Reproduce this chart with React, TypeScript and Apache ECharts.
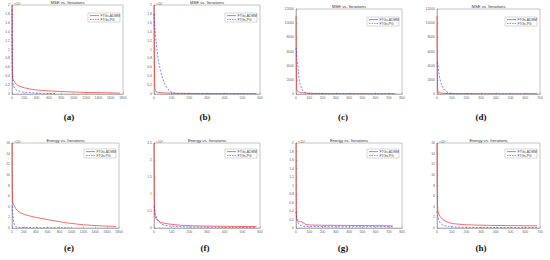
import React, { useEffect, useRef } from "react";
import * as echarts from "echarts";

const seriesNames = ["FTGs-ADMM", "FTGs-PG"];
const titles = ["MSE vs. Iterations", "Energy vs. Iterations"];
const panelLabels = ["(a)", "(b)", "(c)", "(d)", "(e)", "(f)", "(g)", "(h)"];
const exponents = ["×10⁴", "×10⁴", "", "", "×10⁶", "×10⁸", "×10⁸", "×10⁶"];
const xMaxes = [1800, 600, 800, 700, 1800, 600, 800, 700];
const xSteps = [200, 100, 100, 100, 200, 100, 100, 100];
const yMaxes = [2, 2, 12000, 12000, 16, 2.5, 2, 16];
const ySteps = [0.2, 0.2, 2000, 2000, 2, 0.5, 0.2, 2];

// (a)
const aRedX = [0, 2, 5, 10, 20, 40, 70, 100, 150, 200, 300, 400, 600, 800, 1000, 1200, 1400, 1600, 1750];
const aRedY = [2.0, 1.2, 0.6, 0.38, 0.32, 0.27, 0.22, 0.19, 0.16, 0.14, 0.11, 0.09, 0.07, 0.055, 0.045, 0.035, 0.03, 0.025, 0.02];
const aBlueX = [0, 2, 5, 10, 20, 40, 70, 100, 150, 200, 300, 400, 500, 600, 700];
const aBlueY = [1.9, 1.0, 0.5, 0.3, 0.2, 0.13, 0.09, 0.07, 0.05, 0.04, 0.03, 0.02, 0.015, 0.01, 0.008];
// (b)
const bRedX = [0, 1, 2, 3, 5, 8, 12, 20, 40, 80, 150, 300, 450, 580];
const bRedY = [2.0, 1.4, 0.8, 0.4, 0.15, 0.08, 0.05, 0.04, 0.03, 0.02, 0.015, 0.01, 0.008, 0.006];
const bBlueX = [0, 5, 10, 17, 25, 35, 45, 55, 65, 80, 95, 110, 130, 200, 580];
const bBlueY = [1.8, 1.5, 1.25, 1.0, 0.75, 0.55, 0.4, 0.28, 0.19, 0.1, 0.05, 0.025, 0.01, 0.004, 0.002];
// (c)
const cRedX = [0, 1, 2, 4, 6, 10, 20, 40, 80, 150, 300, 500, 750];
const cRedY = [11000, 8000, 4000, 1500, 700, 400, 300, 200, 120, 80, 50, 40, 30];
const cBlueX = [0, 3, 6, 10, 15, 20, 25, 30, 40, 50, 60, 80, 100, 150, 300, 500, 750];
const cBlueY = [6500, 6000, 5200, 4500, 3800, 2800, 2000, 1500, 900, 500, 300, 120, 60, 30, 20, 15, 10];
// (d)
const dRedX = [0, 1, 2, 4, 6, 10, 20, 40, 80, 150, 300, 500, 680];
const dRedY = [11000, 7000, 3000, 1000, 400, 200, 150, 100, 70, 50, 30, 25, 20];
const dBlueX = [0, 3, 6, 10, 15, 20, 30, 40, 50, 60, 80, 100, 130, 200, 400, 680];
const dBlueY = [4500, 4300, 4000, 3400, 2700, 2100, 1400, 900, 600, 380, 150, 60, 25, 10, 5, 5];
// (e)
const eRedX = [0, 2, 5, 10, 20, 40, 60, 100, 150, 250, 400, 640, 900, 1200, 1500, 1750];
const eRedY = [16, 11, 7, 5, 4.5, 4.1, 3.7, 3.2, 2.8, 2.4, 2.0, 1.5, 1.0, 0.6, 0.4, 0.3];
const eBlueX = [0, 5, 10, 20, 30, 50, 80, 120, 200, 400, 700, 1000];
const eBlueY = [4.2, 3.5, 2.8, 1.8, 1.0, 0.4, 0.2, 0.12, 0.08, 0.05, 0.03, 0.02];
// (f)
const fRedX = [0, 1, 2, 4, 7, 10, 20, 40, 80, 150, 250, 400, 580];
const fRedY = [2.5, 1.5, 0.8, 0.45, 0.33, 0.29, 0.22, 0.16, 0.12, 0.08, 0.06, 0.05, 0.04];
const fBlueX = [0, 3, 6, 10, 15, 25, 40, 60, 100, 200, 400, 580];
const fBlueY = [0.65, 0.55, 0.45, 0.37, 0.3, 0.2, 0.12, 0.08, 0.05, 0.03, 0.02, 0.015];
// (g)
const gRedX = [0, 1, 2, 4, 8, 15, 25, 35, 45, 55, 70, 90, 120, 200, 400, 600, 730];
const gRedY = [2.0, 1.0, 0.4, 0.2, 0.17, 0.16, 0.155, 0.15, 0.14, 0.12, 0.09, 0.075, 0.07, 0.065, 0.06, 0.055, 0.05];
const gBlueX = [0, 3, 6, 10, 15, 20, 30, 45, 60, 100, 200, 400, 600, 730];
const gBlueY = [0.38, 0.3, 0.24, 0.18, 0.13, 0.1, 0.07, 0.05, 0.04, 0.035, 0.03, 0.03, 0.03, 0.03];
// (h)
const hRedX = [0, 1, 2, 4, 7, 10, 20, 35, 50, 80, 115, 200, 350, 500, 680];
const hRedY = [16, 10, 6, 3.8, 3.1, 2.8, 2.2, 1.7, 1.4, 1.0, 0.8, 0.6, 0.5, 0.45, 0.4];
const hBlueX = [0, 3, 6, 10, 20, 35, 50, 80, 120, 200, 400, 680];
const hBlueY = [3.2, 2.6, 2.1, 1.6, 1.0, 0.6, 0.45, 0.3, 0.2, 0.12, 0.08, 0.06];

const redSets = [[aRedX, aRedY], [bRedX, bRedY], [cRedX, cRedY], [dRedX, dRedY], [eRedX, eRedY], [fRedX, fRedY], [gRedX, gRedY], [hRedX, hRedY]];
const blueSets = [[aBlueX, aBlueY], [bBlueX, bBlueY], [cBlueX, cBlueY], [dBlueX, dBlueY], [eBlueX, eBlueY], [fBlueX, fBlueY], [gBlueX, gBlueY], [hBlueX, hBlueY]];

// layout: [left, top, width, height]
const layout = [
  [12, 5, 111, 89],
  [154, 5, 106, 89],
  [296, 9, 106, 85],
  [437, 9, 103, 85],
  [12, 143, 107, 85],
  [154, 143, 106, 85],
  [296, 143, 106, 85],
  [437, 143, 103, 85],
];
const labelPos = [
  [69, 117], [205, 117], [343, 117], [481, 117],
  [69, 248], [205, 248], [343, 248], [481, 248],
];

const zip = (xs: number[], ys: number[]) => xs.map((x, i) => [x, ys[i]]);
const RED = "#ff2a2a";
const BLUE = "#2a3aff";

export default function App() {
  const ref = useRef<HTMLDivElement>(null);
  useEffect(() => {
    document.body.style.margin = "0";
    const chart = echarts.init(ref.current!, undefined, { renderer: "svg" });
    const axisColor = "#666";
    const grids: any[] = [];
    const xAxes: any[] = [];
    const yAxes: any[] = [];
    const series: any[] = [];
    const graphics: any[] = [];
    layout.forEach(([l, t, w, h], i) => {
      grids.push({ left: l, top: t, width: w, height: h, show: true, borderColor: "#888", borderWidth: 0.5, backgroundColor: "#fff" });
      const common = {
        gridIndex: i,
        min: 0,
        splitLine: { show: false },
        axisLine: { show: true, lineStyle: { color: "#888", width: 0.5 } },
        axisTick: { show: true, inside: true, length: 1.5, lineStyle: { color: "#888", width: 0.5 } },
        axisLabel: { fontSize: 3.4, color: axisColor, margin: 2, fontFamily: "Liberation Sans", formatter: (v: number) => String(v) },
      };
      xAxes.push({ ...common, type: "value", max: xMaxes[i], interval: xSteps[i] });
      yAxes.push({ ...common, type: "value", max: yMaxes[i], interval: ySteps[i] });
      series.push({
        name: seriesNames[0], type: "line", xAxisIndex: i, yAxisIndex: i, symbol: "none",
        data: zip(redSets[i][0], redSets[i][1]),
        lineStyle: { color: RED, width: 0.7 }, itemStyle: { color: RED },
      });
      series.push({
        name: seriesNames[1], type: "line", xAxisIndex: i, yAxisIndex: i, symbol: "none",
        data: zip(blueSets[i][0], blueSets[i][1]),
        lineStyle: { color: BLUE, width: 0.6, type: [2, 1.5] }, itemStyle: { color: BLUE },
      });
      // legend box (drawn manually)
      const lw = 32, lh = 9;
      const lx = l + w - lw - 3;
      const ly = t + (i < 4 ? 8 : 6);
      graphics.push({
        type: "group",
        children: [
          { type: "rect", shape: { x: lx, y: ly, width: lw, height: lh }, style: { fill: "#fff", stroke: "#999", lineWidth: 0.4 } },
          { type: "line", shape: { x1: lx + 2, y1: ly + 2.6, x2: lx + 11, y2: ly + 2.6 }, style: { stroke: RED, lineWidth: 0.7 } },
          { type: "line", shape: { x1: lx + 2, y1: ly + 6.4, x2: lx + 11, y2: ly + 6.4 }, style: { stroke: BLUE, lineWidth: 0.6, lineDash: [1.5, 1] } },
          { type: "text", x: lx + 12.5, y: ly + 2.6, style: { text: seriesNames[0], fontSize: 3.3, fill: "#444", verticalAlign: "middle", fontFamily: "Liberation Sans" } },
          { type: "text", x: lx + 12.5, y: ly + 6.4, style: { text: seriesNames[1], fontSize: 3.3, fill: "#444", verticalAlign: "middle", fontFamily: "Liberation Sans" } },
        ],
      });
      graphics.push({
        type: "text", x: l + w / 2, y: t - 2.6,
        style: { text: titles[i < 4 ? 0 : 1], fontSize: 4.2, fill: "#333", align: "center", verticalAlign: "middle", fontFamily: "Liberation Sans" },
      });
      if (exponents[i]) {
        graphics.push({
          type: "text", x: l + 2, y: t - 1,
          style: { text: exponents[i], fontSize: 3.4, fill: "#666", align: "left", verticalAlign: "middle", fontFamily: "Liberation Sans" },
        });
      }
      graphics.push({
        type: "text", x: labelPos[i][0], y: labelPos[i][1],
        style: { text: panelLabels[i], fontSize: 9, fontWeight: "bold", fill: "#111", align: "center", verticalAlign: "middle", fontFamily: "Liberation Serif" },
      });
    });
    chart.setOption({
      animation: false,
      backgroundColor: "#fff",
      grid: grids,
      xAxis: xAxes,
      yAxis: yAxes,
      series,
      graphic: graphics,
    });
    return () => chart.dispose();
  }, []);
  return <div ref={ref} style={{ width: 550, height: 260 }} />;
}
